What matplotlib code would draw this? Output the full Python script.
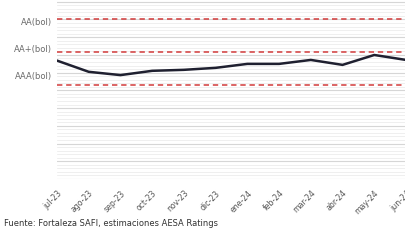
import numpy as np
import matplotlib
matplotlib.use("Agg")
import matplotlib.pyplot as plt

# data
months = ["jul-23", "ago-23", "sep-23", "oct-23", "nov-23", "dic-23",
          "ene-24", "feb-24", "mar-24", "abr-24", "may-24", "jun-24"]
score = [1.73, 1.39, 1.29, 1.42, 1.45, 1.51, 1.63, 1.63, 1.75, 1.60, 1.90, 1.75]

rating_names = ["AA(bol)", "AA+(bol)", "AAA(bol)"]
rating_levels = [3.0, 2.0, 1.0]
label_pos = [2.88, 2.07, 1.26]

source = "Fuente: Fortaleza SAFI, estimaciones AESA Ratings"

fig = plt.figure(figsize=(4.06, 2.47), dpi=100)
ax = fig.add_axes([57 / 406, 68 / 247, 349 / 406, 179 / 247])

y_bot, y_top = -1.86, 3.567
grid_top = 3.515
# light background grid (minor + major)
for y in np.linspace(y_bot, grid_top, 51):
    ax.axhline(y, color="#ededed", lw=0.6, zorder=0)
for y in np.linspace(y_bot, grid_top, 11):
    ax.axhline(y, color="#d6d6d6", lw=0.8, zorder=1)

# rating thresholds
for lvl in rating_levels:
    ax.axhline(lvl, color="#d23a3a", lw=1.1, ls=(0, (3.5, 2.5)), zorder=2)

x = np.arange(len(months))
ax.plot(x, score, color="#1f2030", lw=1.8, zorder=3, solid_joinstyle="round")

ax.set_xlim(0, len(months) - 1)
ax.set_ylim(y_bot, y_top)
ax.set_yticks([])
ax.set_xticks(x)
ax.set_xticklabels(months, rotation=45, ha="right", rotation_mode="anchor",
                   fontsize=5.6, color="#555555")
ax.tick_params(axis="x", length=0, pad=7)
for s in ax.spines.values():
    s.set_visible(False)

for name, yp in zip(rating_names, label_pos):
    ax.text(-0.15, yp, name, ha="right", va="center", fontsize=6,
            color="#6a6a6a")

fig.text(4 / 406, 1 - 223 / 247, source, ha="left", va="center",
         fontsize=6, color="#333333")

fig.savefig("out.png", dpi=100)
